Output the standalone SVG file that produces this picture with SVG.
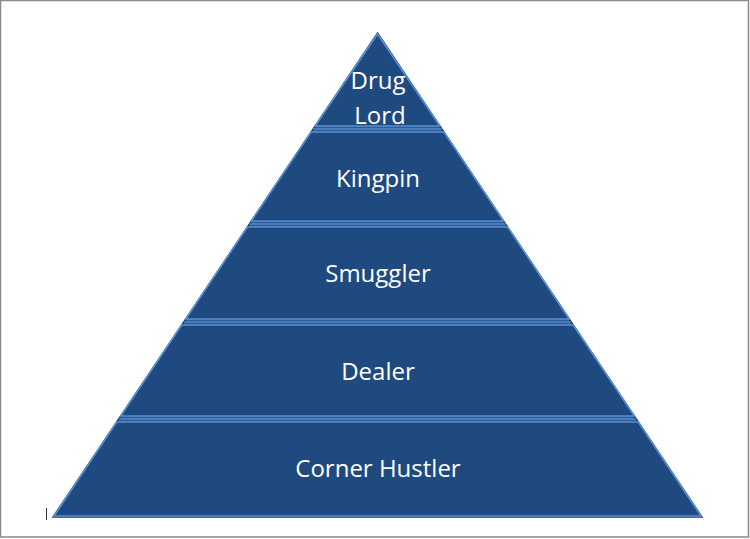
<svg xmlns="http://www.w3.org/2000/svg" width="750" height="539" viewBox="0 0 750 539">
  <style>
    .layer { fill: #1f4a7f; stroke: #5a8fd0; stroke-width: 1.6; stroke-linejoin: miter; }
    .gap { stroke: #6b9ad6; stroke-width: 1.2; }
    .lbl { font-family: "Open Sans", "Liberation Sans", sans-serif; font-size: 24px; fill: #ffffff; text-anchor: middle; }
  </style>
  <rect x="0.5" y="0.5" width="748" height="536.5" fill="#ffffff" stroke="#8a8a8a" stroke-width="1.5"/>
  <!-- backing pyramid -->
  <polygon points="377.5,33 702,517 53,517" fill="#2c5c9a" stroke="#1b3a66" stroke-width="1.5"/>
  <g id="connectors">
    <line class="gap" x1="313" y1="129" x2="442" y2="129"/>
    <line class="gap" x1="249" y1="224" x2="506" y2="224"/>
    <line class="gap" x1="184" y1="322" x2="571" y2="322"/>
    <line class="gap" x1="119" y1="419" x2="636" y2="419"/>
  </g>
  <g id="drug-lord">
    <polygon class="layer" points="377.5,34 439.9,126 315.1,126"/>
    <text class="lbl" x="378" y="89">Drug</text>
    <text class="lbl" x="380" y="124">Lord</text>
  </g>
  <g id="kingpin">
    <polygon class="layer" points="311.1,132 443.9,132 503.6,221 251.4,221"/>
    <text class="lbl" x="378" y="187">Kingpin</text>
  </g>
  <g id="smuggler">
    <polygon class="layer" points="247.4,227 507.6,227 569.3,319 185.7,319"/>
    <text class="lbl" x="378" y="282">Smuggler</text>
  </g>
  <g id="dealer">
    <polygon class="layer" points="181.7,325 573.3,325 634.3,416 120.7,416"/>
    <text class="lbl" x="378" y="380">Dealer</text>
  </g>
  <g id="corner-hustler">
    <polygon class="layer" points="116.7,422 638.3,422 701,516 54,516"/>
    <text class="lbl" x="378" y="477">Corner Hustler</text>
  </g>
  <line x1="46.5" y1="508" x2="46.5" y2="520" stroke="#333333" stroke-width="1"/>
</svg>
